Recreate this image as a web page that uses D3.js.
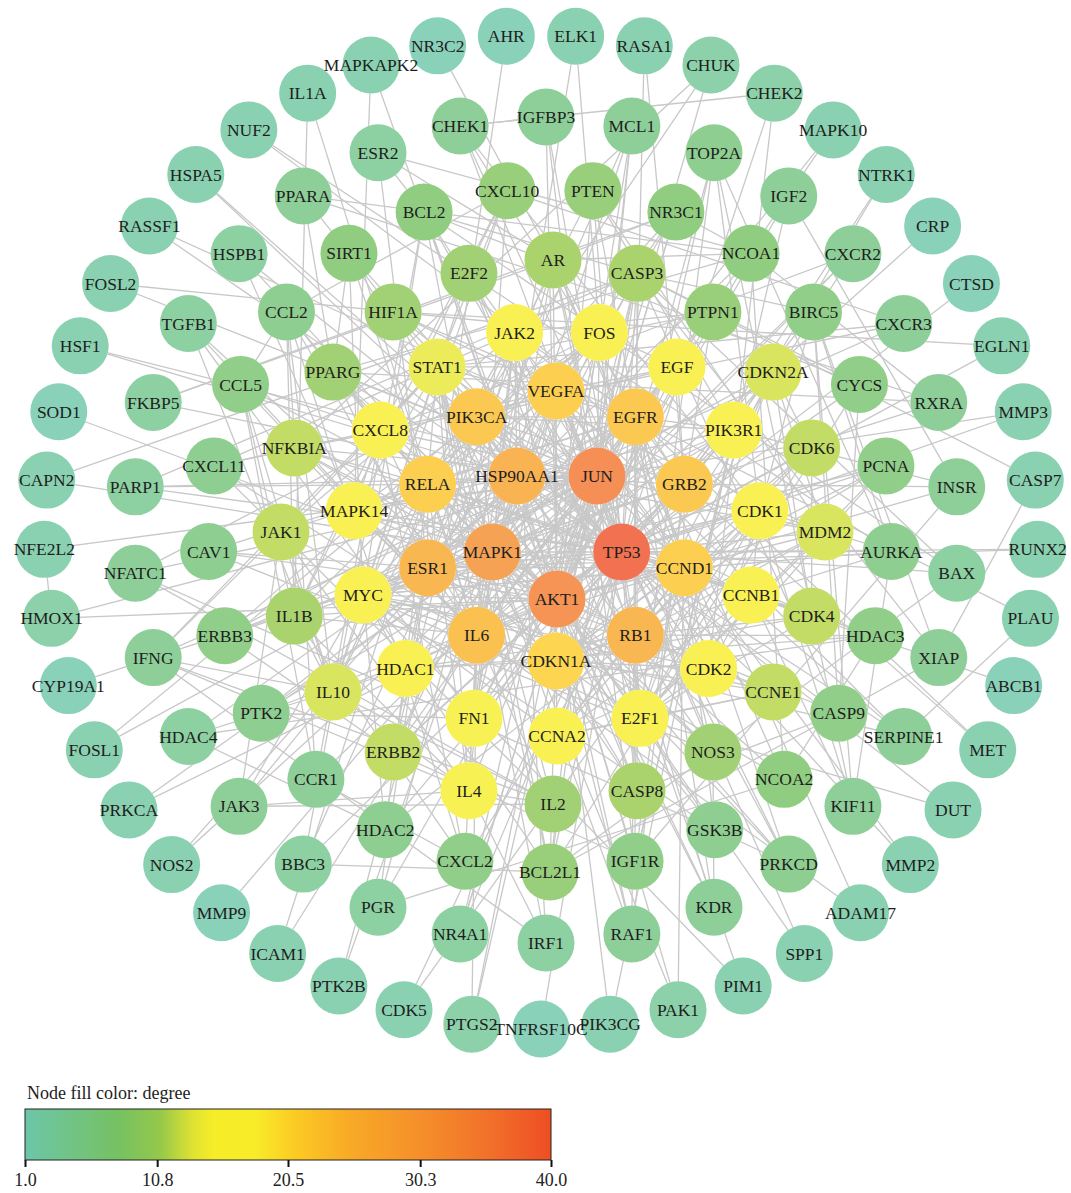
<!DOCTYPE html>
<html>
<head>
<meta charset="utf-8">
<script src="https://cdn.jsdelivr.net/npm/d3@7"></script>
<style>
  html, body { margin: 0; padding: 0; background: #fff; }
  svg { display: block; }
</style>
</head>
<body>
<svg id="chart" width="1071" height="1193"></svg>
<script>
// Concentric rings of genes, innermost = highest degree. Each ring lists genes clockwise.
const ring1 = ["JUN", "TP53", "AKT1", "MAPK1", "HSP90AA1"];
const ring1Degree = [35, 40, 34, 31, 27];

const ring2 = ["VEGFA", "EGFR", "GRB2", "CCND1", "RB1", "CDKN1A", "IL6", "ESR1", "RELA", "PIK3CA"];
const ring2Degree = [22, 23, 23, 22, 26, 21, 24, 26, 22, 23];

const ring3 = ["FOS", "EGF", "PIK3R1", "CDK1", "CCNB1", "CDK2", "E2F1", "CCNA2", "FN1", "HDAC1",
               "MYC", "MAPK14", "CXCL8", "STAT1", "JAK2"];
const ring3Degree = [18, 17, 17, 17, 17, 17, 18, 17, 15, 17, 17, 17, 17, 14, 18];

const ring4 = ["AR", "CASP3", "PTPN1", "CDKN2A", "CDK6", "MDM2", "CDK4", "CCNE1", "NOS3", "CASP8",
               "IL2", "IL4", "ERBB2", "IL10", "IL1B", "JAK1", "NFKBIA", "PPARG", "HIF1A", "E2F2"];
const ring4Degree = [11, 11, 9, 13, 12, 13, 12, 12, 10, 11, 10, 15, 12, 13, 11, 12, 12, 10, 10, 10];

const ring5 = ["PTEN", "NR3C1", "NCOA1", "BIRC5", "CYCS", "PCNA", "AURKA", "HDAC3", "CASP9", "NCOA2",
               "GSK3B", "IGF1R", "BCL2L1", "CXCL2", "HDAC2", "CCR1", "PTK2", "ERBB3", "CAV1", "CXCL11",
               "CCL5", "CCL2", "SIRT1", "BCL2", "CXCL10"];
const ring5Degree = [9, 8, 8, 7, 7, 7, 6, 7, 7, 8, 6, 7, 9, 7, 6, 5, 6, 7, 6, 6, 7, 6, 8, 8, 9];

const ring6 = ["IGFBP3", "MCL1", "TOP2A", "IGF2", "CXCR2", "CXCR3", "RXRA", "INSR", "BAX", "XIAP",
               "SERPINE1", "KIF11", "PRKCD", "KDR", "RAF1", "IRF1", "NR4A1", "PGR", "BBC3", "JAK3",
               "HDAC4", "IFNG", "NFATC1", "PARP1", "FKBP5", "TGFB1", "HSPB1", "PPARA", "ESR2", "CHEK1"];
const ring6Degree = [5, 5, 6, 5, 5, 5, 5, 5, 4, 5, 5, 5, 6, 5, 5, 4, 4, 4, 4, 5, 4, 5, 5, 4, 4, 4, 4, 5, 4, 5];

const ring7 = ["AHR", "ELK1", "RASA1", "CHUK", "CHEK2", "MAPK10", "NTRK1", "CRP", "CTSD", "EGLN1",
               "MMP3", "CASP7", "RUNX2", "PLAU", "ABCB1", "MET", "DUT", "MMP2", "ADAM17", "SPP1",
               "PIM1", "PAK1", "PIK3CG", "TNFRSF10C", "PTGS2", "CDK5", "PTK2B", "ICAM1", "MMP9", "NOS2",
               "PRKCA", "FOSL1", "CYP19A1", "HMOX1", "NFE2L2", "CAPN2", "SOD1", "HSF1", "FOSL2", "RASSF1",
               "HSPA5", "NUF2", "IL1A", "MAPKAPK2", "NR3C2"];
const ring7Degree = [1, 2, 2, 3, 3, 2, 2, 1, 1, 2, 2, 2, 2, 2, 1, 2, 2, 2, 2, 2,
                     2, 3, 2, 1, 3, 2, 2, 2, 1, 2, 2, 2, 1, 3, 2, 2, 1, 2, 2, 2,
                     2, 2, 2, 2, 1];

// Interactions: "gene: partner partner ..."
const interactions = [
  // outer ring
  "AHR: ESR1", "ELK1: MAPK1 FOS", "RASA1: GRB2 EGFR", "CHUK: NFKBIA RELA AKT1", "CHEK2: TP53 CDK2 CHEK1",
  "MAPK10: JUN MAPK1", "NTRK1: GRB2 PIK3R1", "CRP: IL6", "CTSD: TP53", "EGLN1: HIF1A TP53",
  "MMP3: TP53 JUN", "CASP7: CASP3 XIAP", "RUNX2: ESR1 TP53", "PLAU: EGFR SERPINE1", "ABCB1: TP53",
  "MET: EGFR GRB2", "DUT: TP53 E2F1", "MMP2: TP53 VEGFA", "ADAM17: EGFR IL6", "SPP1: VEGFA AKT1",
  "PIM1: MYC JAK2", "PAK1: MAPK1 AKT1 GRB2", "PIK3CG: AKT1 PIK3R1", "TNFRSF10C: TP53", "PTGS2: IL6 JUN AKT1",
  "CDK5: TP53 CDK1", "PTK2B: MAPK1 JAK2", "ICAM1: IL6 RELA", "MMP9: JUN", "NOS2: JUN HSP90AA1",
  "PRKCA: MAPK1 AKT1", "FOSL1: JUN FOS", "CYP19A1: ESR1", "HMOX1: NFE2L2 JUN AKT1", "NFE2L2: JUN",
  "CAPN2: MAPK1 CASP3", "SOD1: AKT1", "HSF1: HSP90AA1 JUN", "FOSL2: JUN FOS", "RASSF1: MDM2 TP53",
  "HSPA5: HSP90AA1 TP53", "NUF2: CDK1 AURKA", "IL1A: IL6 IL1B", "MAPKAPK2: MAPK14 HSP90AA1", "NR3C2: AR",
  // sixth ring
  "IGFBP3: TP53 AKT1 IGF1R CHEK1", "MCL1: AKT1 BCL2L1 MAPK1 JUN", "TOP2A: TP53 CDK1 CCNA2 AURKA E2F1",
  "IGF2: IGF1R AKT1 INSR", "CXCR2: CXCL8 IL6 CXCL2 CCR1", "CXCR3: CXCL10 CXCL11 STAT1 IFNG",
  "RXRA: PPARG PPARA NCOA1 ESR1", "INSR: IGF1R PIK3R1 GRB2 AKT1", "BAX: TP53 BCL2 CASP3 BCL2L1",
  "XIAP: CASP3 CASP9 BIRC5", "SERPINE1: TP53 IL6 VEGFA JUN", "KIF11: CDK1 AURKA CCNB1 TOP2A BIRC5",
  "PRKCD: MAPK1 AKT1 TP53 EGFR GSK3B JUN", "KDR: VEGFA PIK3CA NOS3 AKT1 EGFR", "RAF1: MAPK1 GRB2 AKT1 HSP90AA1 EGFR",
  "IRF1: STAT1 JAK2 IFNG IL4", "NR4A1: JUN FOS NR3C1 TP53", "PGR: ESR1 AR NCOA1 NCOA2",
  "BBC3: TP53 BCL2 BCL2L1 MCL1", "JAK3: JAK1 JAK2 IL2 IL4 IL10", "HDAC4: HDAC1 HDAC3 HDAC2 ESR1",
  "IFNG: STAT1 JAK1 IL10 IL4 IL2", "NFATC1: JUN FOS IL2 GSK3B", "PARP1: TP53 CASP3 RELA JUN",
  "FKBP5: HSP90AA1 NR3C1 AR", "TGFB1: IL6 IL10 FN1 CDKN1A", "HSPB1: HSP90AA1 AKT1 MAPK14",
  "PPARA: PPARG RXRA NCOA1 SIRT1", "ESR2: ESR1 NCOA1 AR BCL2", "CHEK1: TP53 CDK1 CCNB1 CDK2",
  // fifth ring
  "CXCL10: CXCL8 IL6 STAT1 IL10 CCL2 IL1B", "PTEN: AKT1 PIK3CA TP53 PIK3R1 EGFR MDM2",
  "NR3C1: HSP90AA1 ESR1 AR NCOA1 JUN RELA", "NCOA1: ESR1 AR PPARG NCOA2", "BIRC5: TP53 CDK1 CASP3 CASP9 AURKA",
  "CYCS: CASP3 CASP9 TP53 BCL2 BCL2L1", "PCNA: CDKN1A CCND1 TP53 CDK2 E2F1 MYC", "AURKA: CDK1 TP53 CCNB1 MYC",
  "HDAC3: HDAC1 RELA TP53 RB1 NCOA2", "CASP9: CASP3 AKT1 TP53 BCL2L1 CASP8", "NCOA2: ESR1 AR PPARG",
  "GSK3B: AKT1 MYC CCND1 MAPK1", "IGF1R: AKT1 PIK3R1 GRB2 EGFR ERBB2", "BCL2L1: TP53 BCL2 CASP3 AKT1 STAT1 MYC",
  "CXCL2: CXCL8 IL6 IL1B CCL2 CCR1", "HDAC2: HDAC1 RB1 TP53 MYC", "CCR1: CCL5 CCL2 CXCL8",
  "PTK2: AKT1 MAPK1 EGFR PIK3R1 FN1", "ERBB3: ERBB2 EGFR PIK3R1 GRB2 PIK3CA", "CAV1: EGFR NOS3 AKT1 ESR1",
  "CXCL11: STAT1 CXCL8 IL6 JAK1", "CCL5: CCL2 IL6 CXCL8 IL1B RELA IL10", "CCL2: IL6 CXCL8 IL1B IL10 RELA",
  "SIRT1: TP53 RELA HIF1A PPARG MYC AKT1", "BCL2: TP53 AKT1 CASP3 CASP8 MYC JUN",
  // fourth ring
  "AR: HSP90AA1 ESR1 AKT1 JUN EGFR TP53 CCND1", "CASP3: TP53 AKT1 CASP8 MAPK1 JUN CDKN1A",
  "PTPN1: EGFR JAK2 STAT1 GRB2 AKT1", "CDKN2A: TP53 CDK4 CDK6 RB1 MDM2 CCND1 E2F1 MYC CDKN1A",
  "CDK6: CCND1 RB1 CDK4 TP53 E2F1 CDKN1A", "MDM2: TP53 AKT1 RB1 CDKN1A E2F1 HSP90AA1 JUN",
  "CDK4: CCND1 RB1 TP53 CDKN1A E2F1 HSP90AA1", "CCNE1: CDK2 RB1 CDKN1A TP53 E2F1 CCNA2 MYC",
  "NOS3: AKT1 HSP90AA1 VEGFA EGFR MAPK1", "CASP8: TP53 JUN AKT1 RELA MAPK1", "IL2: IL6 IL4 IL10 JAK1 STAT1",
  "IL4: IL6 IL10 JAK1 STAT1 IL1B JUN RELA JAK2", "ERBB2: EGFR HSP90AA1 GRB2 PIK3CA AKT1 MAPK1 ESR1",
  "IL10: IL6 STAT1 JAK1 IL1B JAK2 RELA", "IL1B: IL6 JUN RELA MAPK1 AKT1 CXCL8", "JAK1: STAT1 JAK2 IL6 EGFR",
  "NFKBIA: RELA AKT1 JUN TP53 MAPK1 IL6", "PPARG: RELA TP53 JUN ESR1 AKT1",
  "HIF1A: VEGFA TP53 AKT1 HSP90AA1 JUN EGFR", "E2F2: RB1 E2F1 TP53 CCND1 MYC",
  // third ring
  "JAK2: STAT1 EGFR IL6 GRB2 MAPK1 AKT1 HSP90AA1 JUN", "FOS: JUN MAPK1 AKT1 TP53 EGF ESR1 MYC RELA MAPK14",
  "EGF: EGFR GRB2 AKT1 MAPK1 PIK3CA PIK3R1 VEGFA STAT1 IL6", "PIK3R1: PIK3CA AKT1 EGFR GRB2 MAPK1 TP53 HSP90AA1",
  "CDK1: CCNB1 CDK2 CCNA2 TP53 CDKN1A RB1 E2F1 MYC", "CCNB1: CDK2 TP53 CCNA2 CDKN1A E2F1",
  "CDK2: CCNA2 TP53 CDKN1A RB1 E2F1 CCND1 MYC", "E2F1: RB1 TP53 CCND1 MYC CCNA2 CDKN1A",
  "CCNA2: TP53 RB1 CDKN1A CCND1 MYC", "FN1: VEGFA AKT1 IL6 EGFR MAPK1 JUN TP53 HSP90AA1",
  "HDAC1: TP53 RB1 ESR1 MYC JUN RELA CDKN1A", "MYC: TP53 JUN AKT1 MAPK1 CCND1 CDKN1A ESR1 RB1 EGFR",
  "MAPK14: MAPK1 JUN TP53 AKT1 HSP90AA1 RELA IL6 STAT1", "CXCL8: IL6 RELA JUN MAPK1 VEGFA AKT1 STAT1 MAPK14",
  "STAT1: JUN RELA TP53 IL6 EGFR MAPK1 HSP90AA1",
  // second ring
  "VEGFA: AKT1 TP53 JUN MAPK1 HSP90AA1 EGFR IL6 RELA ESR1 PIK3CA",
  "EGFR: AKT1 TP53 MAPK1 HSP90AA1 JUN GRB2 PIK3CA ESR1 IL6 CCND1 RB1",
  "GRB2: AKT1 MAPK1 PIK3CA TP53 HSP90AA1", "CCND1: TP53 AKT1 JUN ESR1 RB1 CDKN1A MAPK1 RELA IL6",
  "RB1: TP53 AKT1 JUN MAPK1 CDKN1A ESR1 HSP90AA1", "CDKN1A: TP53 AKT1 JUN MAPK1 ESR1 IL6",
  "IL6: TP53 AKT1 JUN MAPK1 RELA HSP90AA1 ESR1", "ESR1: TP53 AKT1 JUN MAPK1 HSP90AA1 RELA PIK3CA",
  "RELA: TP53 AKT1 JUN MAPK1 HSP90AA1", "PIK3CA: AKT1 TP53 MAPK1 HSP90AA1 JUN",
  // core
  "JUN: TP53 AKT1 MAPK1 HSP90AA1", "TP53: AKT1 MAPK1 HSP90AA1", "AKT1: MAPK1 HSP90AA1", "MAPK1: HSP90AA1"
];

// Colour legend: degree range and the colour ramp along it
const legendTicks = [1.0, 10.8, 20.5, 30.3, 40.0];
const rampDegrees = [1, 8, 11, 13.5, 15, 18, 21, 25, 30, 35, 40];
const rampColors = ["#6cc6a8", "#76c162", "#95c84a", "#e0e332", "#f6ed28", "#f8ec29",
                    "#fccb24", "#f8aa26", "#f5912a", "#f2732a", "#ee4e24"];

// ---- layout of the rings (centre, radius, angle of the first gene) ----
const ringLayout = [
  { genes: ring1, degree: ring1Degree, cx: 557, cy: 531, r: 68,  start: 36 },
  { genes: ring2, degree: ring2Degree, cx: 556, cy: 526, r: 135, start: 0 },
  { genes: ring3, degree: ring3Degree, cx: 557, cy: 532, r: 204, start: 12 },
  { genes: ring4, degree: ring4Degree, cx: 553, cy: 532, r: 272, start: 0 },
  { genes: ring5, degree: ring5Degree, cx: 550, cy: 530, r: 342, start: 7.2 },
  { genes: ring6, degree: ring6Degree, cx: 546, cy: 530, r: 413, start: 0 },
  { genes: ring7, degree: ring7Degree, cx: 541, cy: 532, r: 497, start: -4 }
];

const nodes = [];
const byName = new Map();
ringLayout.forEach(ring => {
  const n = ring.genes.length;
  const angle = d3.scaleLinear().domain([0, n]).range([ring.start, ring.start + 360]);
  ring.genes.forEach((g, i) => {
    const a = angle(i) * Math.PI / 180;
    const node = { id: g, degree: ring.degree[i],
                   x: ring.cx + ring.r * Math.sin(a),
                   y: ring.cy - ring.r * Math.cos(a) };
    nodes.push(node);
    byName.set(g, node);
  });
});

const links = [];
const seen = new Set();
interactions.forEach(line => {
  const [src, rest] = line.split(":");
  const a = src.trim();
  rest.trim().split(/\s+/).forEach(b => {
    if (!byName.has(a) || !byName.has(b) || a === b) return;
    const key = [a, b].sort().join("|");
    if (seen.has(key)) return;
    seen.add(key);
    links.push({ source: byName.get(a), target: byName.get(b) });
  });
});

const color = d3.scaleLinear().domain(rampDegrees).range(rampColors).interpolate(d3.interpolateRgb);

const svg = d3.select("#chart");
svg.append("rect").attr("width", 1071).attr("height", 1193).attr("fill", "#fff");

const FONT = "'Liberation Serif', 'Times New Roman', serif";

// edges
svg.append("g")
  .attr("stroke", "#c8c8c8")
  .attr("stroke-width", 1.3)
  .selectAll("line")
  .data(links)
  .join("line")
  .attr("x1", d => d.source.x).attr("y1", d => d.source.y)
  .attr("x2", d => d.target.x).attr("y2", d => d.target.y);

// nodes: white backing so the pale fill hides the edges underneath
const nodeG = svg.append("g").selectAll("g").data(nodes).join("g")
  .attr("transform", d => `translate(${d.x},${d.y})`);
nodeG.append("circle").attr("r", 28.5).attr("fill", "#fff");
nodeG.append("circle").attr("r", 28.5)
  .attr("fill", d => color(d.degree))
  .attr("fill-opacity", 0.8);

// labels (drawn last so overlapping names stay readable)
svg.append("g").selectAll("text").data(nodes).join("text")
  .attr("x", d => d.x).attr("y", d => d.y)
  .attr("dy", "0.35em")
  .attr("text-anchor", "middle")
  .attr("font-family", FONT)
  .attr("font-size", 17.5)
  .attr("fill", "#1e1e1e")
  .text(d => d.id);

// legend
const legendX = d3.scaleLinear().domain([1, 40]).range([25, 551]);
const defs = svg.append("defs");
const grad = defs.append("linearGradient").attr("id", "degreeRamp")
  .attr("x1", "0%").attr("x2", "100%").attr("y1", "0%").attr("y2", "0%");
rampDegrees.forEach((v, i) => {
  grad.append("stop")
    .attr("offset", ((v - 1) / 39 * 100) + "%")
    .attr("stop-color", rampColors[i]);
});

svg.append("text")
  .attr("x", 27).attr("y", 1099)
  .attr("font-family", FONT).attr("font-size", 18).attr("fill", "#222")
  .text("Node fill color: degree");

svg.append("rect")
  .attr("x", legendX(1)).attr("y", 1109)
  .attr("width", legendX(40) - legendX(1)).attr("height", 51)
  .attr("fill", "url(#degreeRamp)")
  .attr("stroke", "#222").attr("stroke-width", 1);

const axis = svg.append("g").attr("transform", "translate(0,1160)")
  .call(d3.axisBottom(legendX).tickValues(legendTicks).tickFormat(d3.format(".1f")).tickSize(7).tickPadding(6));
axis.select(".domain").remove();
axis.selectAll(".tick line").attr("stroke", "#111").attr("stroke-width", 2);
axis.selectAll(".tick text")
  .attr("font-family", FONT).attr("font-size", 18).attr("fill", "#222");
</script>
</body>
</html>
